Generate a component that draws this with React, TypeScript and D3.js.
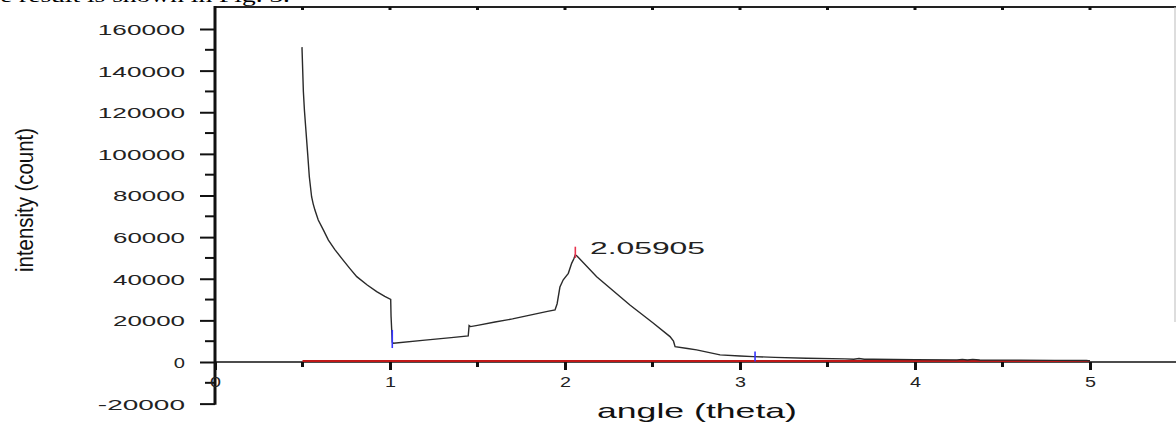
import { useEffect, useRef } from 'react';
import * as d3 from 'd3';

// measured curve, angle (theta) vs intensity (count)
const angle = [
  0.497, 0.505, 0.511, 0.518, 0.53, 0.539, 0.552, 0.561, 0.571, 0.59, 0.619, 0.648, 0.685, 0.724,
  0.77, 0.81, 0.87, 0.924, 0.97, 1.004, 1.006, 1.013, 1.02, 1.2, 1.35, 1.447, 1.452, 1.46, 1.5,
  1.6, 1.7, 1.8, 1.9, 1.943, 1.955, 1.971, 1.99, 2.019, 2.038, 2.05, 2.059, 2.07, 2.181, 2.371,
  2.5, 2.6, 2.62, 2.629, 2.7, 2.752, 2.886, 3.0, 3.076, 3.2, 3.38, 3.6, 3.65, 3.68, 3.71, 3.76,
  4.0, 4.24, 4.27, 4.3, 4.33, 4.37, 4.6, 4.8, 4.98, 5.0,
];
const intensity = [
  151300, 130000, 121000, 113000, 99500, 89000, 79400, 76000, 73000, 68200, 63500, 58600, 54000, 49800,
  45000, 41000, 37000, 33800, 31500, 30100, 22000, 9500, 9000, 10500, 11700, 12500, 17500, 17000, 17600,
  19200, 20700, 22500, 24300, 25000, 28000, 36000, 39500, 42600, 47400, 49500, 51500, 50800, 41000, 27400,
  19000, 12200, 10000, 7400, 6500, 5800, 3400, 2900, 2600, 2200, 1800, 1500, 1350, 1650, 1350, 1300,
  1150, 1000, 1250, 950, 1250, 950, 900, 800, 700, 500,
];

// flat background trace drawn in red
const baseAngle = [0.5, 5.0];
const baseIntensity = [500, 500];

// peak / boundary markers
const markerAngle = [1.013, 2.059, 3.086];
const markerLow = [6700, 50000, 300];
const markerHigh = [15400, 55400, 5000];
const markerKind = ['bound', 'peak', 'bound'];
const peakLabel = '2.05905';

const yTickValues = [-20000, 0, 20000, 40000, 60000, 80000, 100000, 120000, 140000, 160000];
const yMinorValues = [-10000, 10000, 30000, 50000, 70000, 90000, 110000, 130000, 150000];
const xTickValues = [0, 1, 2, 3, 4, 5];
const xMinorValues = [0.5, 1.5, 2.5, 3.5, 4.5];
const topTickValues = [0.5, 1, 1.5, 2, 2.5, 3, 3.5, 4, 4.5, 5];

const WIDTH = 1176;
const HEIGHT = 423;

const App = () => {
  const svgRef = useRef(null);

  useEffect(() => {
    const svg = d3.select(svgRef.current);
    svg.selectAll('*').remove();

    const left = 215;
    const plotTop = 7;
    const right = 1176;

    const x = d3.scaleLinear().domain([0, 5.5]).range([left, left + 175 * 5.5]);
    const y = d3.scaleLinear().domain([0, 160000]).range([362, 29]);
    const font = 'Liberation Sans, Arial, sans-serif';

    // cut-off line of the surrounding page text
    svg.append('text')
      .attr('x', 0)
      .attr('y', 2)
      .attr('font-family', 'Liberation Serif, Times New Roman, serif')
      .attr('font-size', 19)
      .attr('textLength', 290)
      .attr('lengthAdjust', 'spacingAndGlyphs')
      .text('e result is shown in Fig. 3.');

    // top frame with small ticks
    svg.append('line')
      .attr('x1', left).attr('x2', right)
      .attr('y1', plotTop).attr('y2', plotTop)
      .attr('stroke', '#222').attr('stroke-width', 2);
    svg.selectAll('topTicks')
      .data(topTickValues)
      .enter()
      .append('line')
      .attr('x1', d => x(d)).attr('x2', d => x(d))
      .attr('y1', plotTop).attr('y2', plotTop + 3)
      .attr('stroke', '#111').attr('stroke-width', 3);

    // right frame edge
    svg.append('line')
      .attr('x1', right - 1).attr('x2', right - 1)
      .attr('y1', plotTop).attr('y2', 322)
      .attr('stroke', '#bbb').attr('stroke-width', 1);

    // y axis
    const yAxis = svg.append('g')
      .attr('transform', `translate(${left},0)`)
      .call(d3.axisLeft(y).tickValues(yTickValues).tickSize(15).tickSizeOuter(0).tickPadding(15));
    yAxis.select('.domain').remove();
    yAxis.selectAll('line').attr('stroke', '#111').attr('stroke-width', 2);
    yAxis.selectAll('text')
      .attr('font-family', font)
      .attr('font-size', 15)
      .attr('fill', '#222')
      .attr('dy', '0.36em')
      .attr('textLength', d => 15.2 * String(d).length - 4)
      .attr('lengthAdjust', 'spacingAndGlyphs')
      .text(d => String(d));
    svg.selectAll('yMinor')
      .data(yMinorValues)
      .enter()
      .append('line')
      .attr('x1', left - 10).attr('x2', left)
      .attr('y1', d => y(d)).attr('y2', d => y(d))
      .attr('stroke', '#111').attr('stroke-width', 2);
    svg.append('line')
      .attr('x1', left).attr('x2', left)
      .attr('y1', plotTop - 1).attr('y2', y(-20000) + 1)
      .attr('stroke', '#111').attr('stroke-width', 3);

    // x axis at zero
    const xAxis = svg.append('g')
      .attr('transform', `translate(0,${y(0)})`)
      .call(d3.axisBottom(x).tickValues(xTickValues).tickFormat(d3.format('d'))
        .tickSize(8).tickSizeOuter(0).tickPadding(7));
    xAxis.select('.domain').remove();
    xAxis.selectAll('line').attr('stroke', '#111').attr('stroke-width', 3);
    xAxis.selectAll('text')
      .attr('font-family', font)
      .attr('font-size', 14)
      .attr('fill', '#222')
      .attr('textLength', 11)
      .attr('lengthAdjust', 'spacingAndGlyphs');
    svg.selectAll('xMinor')
      .data(xMinorValues)
      .enter()
      .append('line')
      .attr('x1', d => x(d)).attr('x2', d => x(d))
      .attr('y1', y(0)).attr('y2', y(0) + 5)
      .attr('stroke', '#111').attr('stroke-width', 3);
    svg.append('line')
      .attr('x1', left).attr('x2', right)
      .attr('y1', y(0)).attr('y2', y(0))
      .attr('stroke', '#111').attr('stroke-width', 1.5);

    // red background trace
    const line = d3.line().x(d => x(d[0])).y(d => y(d[1]));
    svg.append('path')
      .attr('d', line(d3.zip(baseAngle, baseIntensity)))
      .attr('fill', 'none')
      .attr('stroke', '#c01818')
      .attr('stroke-width', 2);

    // intensity curve
    svg.append('path')
      .attr('d', line(d3.zip(angle, intensity)))
      .attr('fill', 'none')
      .attr('stroke', '#2a2a2a')
      .attr('stroke-width', 1.4);

    // markers
    svg.selectAll('markers')
      .data(markerAngle)
      .enter()
      .append('line')
      .attr('x1', d => x(d)).attr('x2', d => x(d))
      .attr('y1', (d, i) => y(markerHigh[i]))
      .attr('y2', (d, i) => y(markerLow[i]))
      .attr('stroke', (d, i) => markerKind[i] === 'peak' ? '#e8344e' : '#3535ff')
      .attr('stroke-width', 1.6);

    svg.append('text')
      .attr('x', 590)
      .attr('y', 254)
      .attr('font-family', font)
      .attr('font-size', 16)
      .attr('fill', '#222')
      .attr('textLength', 115)
      .attr('lengthAdjust', 'spacingAndGlyphs')
      .text(peakLabel);

    // axis titles
    svg.append('text')
      .attr('x', 597)
      .attr('y', 418)
      .attr('font-family', font)
      .attr('font-size', 21)
      .attr('fill', '#111')
      .attr('textLength', 200)
      .attr('lengthAdjust', 'spacingAndGlyphs')
      .text('angle (theta)');

    svg.append('text')
      .attr('transform', 'translate(33,200) rotate(-90)')
      .attr('text-anchor', 'middle')
      .attr('font-family', font)
      .attr('font-size', 23)
      .attr('fill', '#111')
      .attr('textLength', 144)
      .attr('lengthAdjust', 'spacingAndGlyphs')
      .text('intensity (count)');
  }, []);

  return (
    <svg
      ref={svgRef}
      width={WIDTH}
      height={HEIGHT}
      style={{ position: 'absolute', left: 0, top: 0, background: '#fff' }}
    />
  );
};

export default App;
